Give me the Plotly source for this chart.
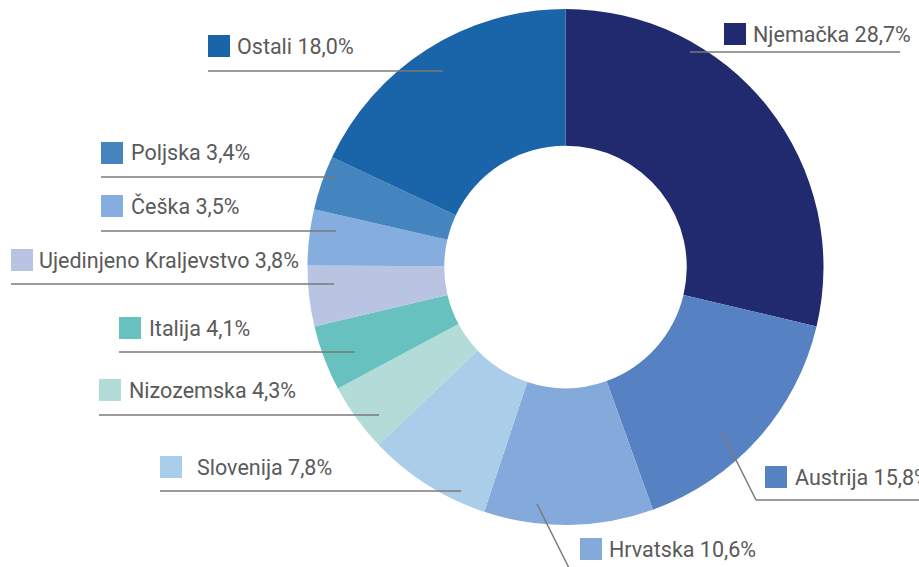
import plotly.graph_objects as go

W, H = 919, 567

countries = ["Njemačka", "Austrija", "Hrvatska", "Slovenija", "Nizozemska",
             "Italija", "Ujedinjeno Kraljevstvo", "Češka", "Poljska", "Ostali"]
shares = [28.7, 15.8, 10.6, 7.8, 4.3, 4.1, 3.8, 3.5, 3.4, 18.0]
share_labels = ["28,7%", "15,8%", "10,6%", "7,8%", "4,3%", "4,1%", "3,8%", "3,5%", "3,4%", "18,0%"]
colors = ["#212A6E", "#5681C2", "#84A9DB", "#AACDEA", "#B3DBD8",
          "#67C2BF", "#B8C4E2", "#85AEDF", "#4485BF", "#1A64AA"]

# label layout (pixels): square left, square top, text left
label_pos = {
    "Njemačka": (724, 23, 751),
    "Austrija": (765, 466, 793),
    "Hrvatska": (580, 538, 607),
    "Slovenija": (160, 456, 195),
    "Nizozemska": (99, 379, 127),
    "Italija": (119, 317, 147),
    "Ujedinjeno Kraljevstvo": (11, 249, 37),
    "Češka": (101, 195, 129),
    "Poljska": (101, 142, 129),
    "Ostali": (208, 35, 235),
}
# leader lines (pixels): list of points
leaders = {
    "Njemačka": [(690, 52), (900, 52)],
    "Austrija": [(722, 432), (756, 500), (919, 500)],
    "Hrvatska": [(537, 504), (569, 568)],
    "Slovenija": [(160, 491), (461, 491)],
    "Nizozemska": [(99, 415), (379, 415)],
    "Italija": [(119, 352), (355, 352)],
    "Ujedinjeno Kraljevstvo": [(11, 284), (334, 284)],
    "Češka": [(101, 231), (336, 231)],
    "Poljska": [(101, 177), (336, 177)],
    "Ostali": [(208, 71), (443, 71)],
}

def px(x):
    return x / W

def py(y):
    return 1 - y / H

cx, cy, r = 565.5, 267, 258

fig = go.Figure(go.Pie(
    labels=countries,
    values=shares,
    marker=dict(colors=colors, line=dict(width=0)),
    hole=0.47,
    sort=False,
    direction="clockwise",
    rotation=0,
    textinfo="none",
    hoverinfo="label+percent",
    domain=dict(x=[px(cx - r), px(cx + r)], y=[py(cy + r), py(cy - r)]),
    showlegend=False,
))

shapes = []
annotations = []
SQ = 22
for name, lab, col in zip(countries, share_labels, colors):
    sx, sy, tx = label_pos[name]
    shapes.append(dict(type="rect", xref="paper", yref="paper",
                       x0=px(sx), x1=px(sx + SQ), y0=py(sy + SQ), y1=py(sy),
                       fillcolor=col, line=dict(width=0), layer="above"))
    pts = leaders[name]
    for (x0, y0), (x1, y1) in zip(pts[:-1], pts[1:]):
        shapes.append(dict(type="line", xref="paper", yref="paper",
                           x0=px(x0), y0=py(y0), x1=px(x1), y1=py(y1),
                           line=dict(color="#7a7a7a", width=1.5), layer="above"))
    annotations.append(dict(xref="paper", yref="paper", x=px(tx), y=py(sy + SQ / 2),
                            xanchor="left", yanchor="middle", showarrow=False,
                            text=f"{name} {lab}",
                            font=dict(family="Roboto", size=21.5, color="#5a5a5a")))

fig.update_layout(
    width=W, height=H,
    margin=dict(l=0, r=0, t=0, b=0),
    paper_bgcolor="white", plot_bgcolor="white",
    shapes=shapes, annotations=annotations,
)

fig.write_html("out.html",
               config={"displayModeBar": False},
               post_script="document.body.style.margin='0';document.body.style.overflow='hidden';")
